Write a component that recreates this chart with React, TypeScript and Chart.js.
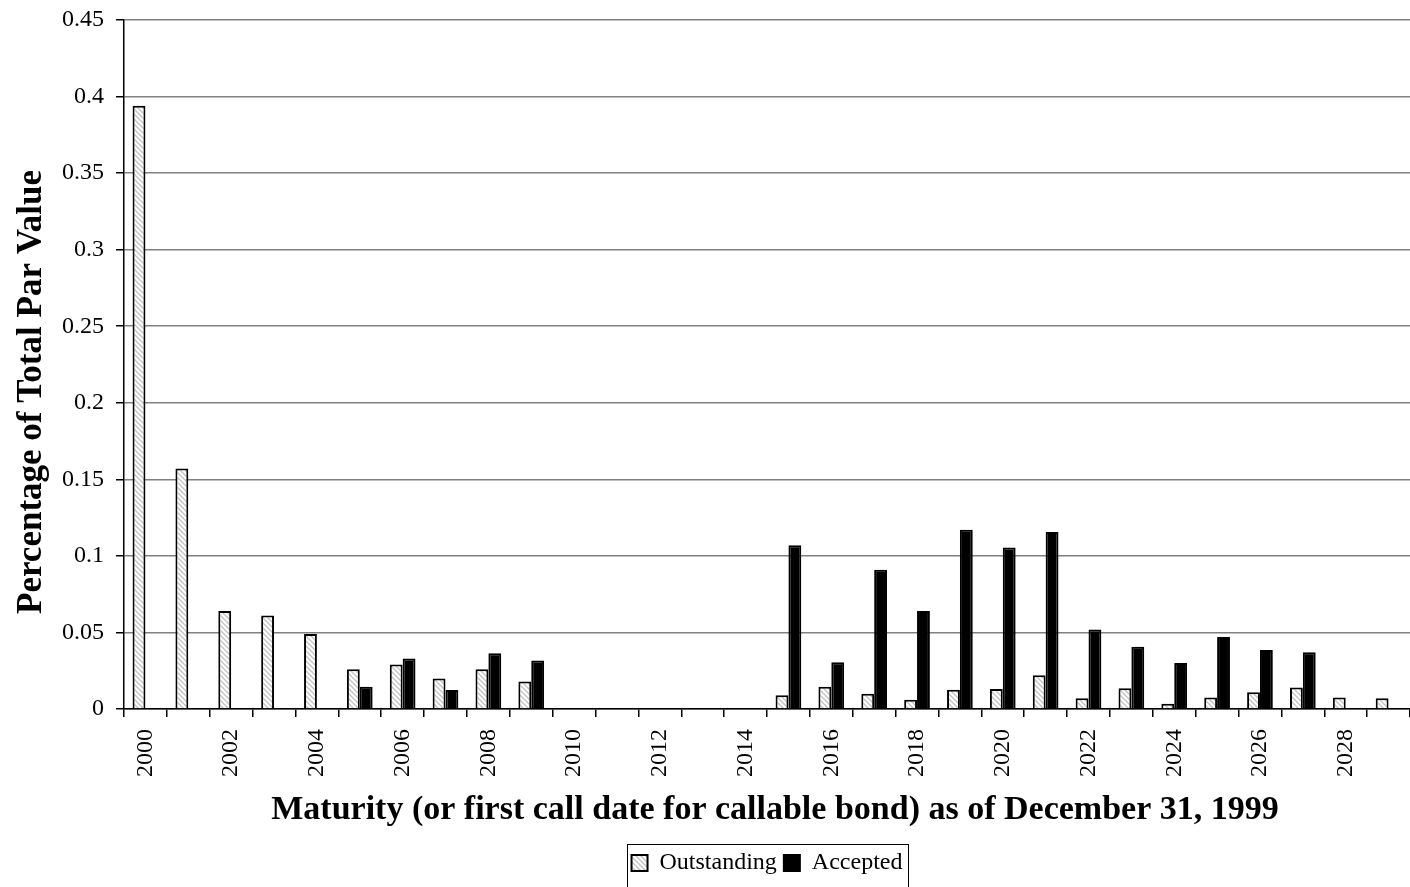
import React, { useEffect, useRef } from "react";
import { Chart, registerables } from "chart.js";

Chart.register(...registerables);

const years = [
  "2000", "2001", "2002", "2003", "2004", "2005", "2006", "2007", "2008", "2009",
  "2010", "2011", "2012", "2013", "2014", "2015", "2016", "2017", "2018", "2019",
  "2020", "2021", "2022", "2023", "2024", "2025", "2026", "2027", "2028", "2029",
];

const outstanding = [
  0.394, 0.157, 0.064, 0.061, 0.049, 0.026, 0.029, 0.020, 0.026, 0.018,
  null, null, null, null, null, 0.009, 0.0145, 0.010, 0.006, 0.0125,
  0.013, 0.022, 0.007, 0.0135, 0.0035, 0.0075, 0.011, 0.014, 0.0075, 0.007,
];

const accepted = [
  null, null, null, null, null, 0.0146, 0.033, 0.0124, 0.0364, 0.0316,
  null, null, null, null, null, 0.107, 0.0305, 0.091, 0.064, 0.117,
  0.1054, 0.1156, 0.052, 0.0407, 0.030, 0.047, 0.0385, 0.037, null, null,
];

const yTicks = [0, 0.05, 0.1, 0.15, 0.2, 0.25, 0.3, 0.35, 0.4, 0.45];

const xTitle = "Maturity (or first call date for callable bond) as of December 31, 1999";
const yTitle = "Percentage of Total Par Value";
const legendLabels = ["Outstanding", "Accepted"];

const FONT = "'Liberation Serif', 'Times New Roman', serif";

function makeHatch(): CanvasPattern | string {
  const n = 5;
  const c = document.createElement("canvas");
  c.width = n;
  c.height = n;
  const g = c.getContext("2d");
  if (!g) return "#ddd";
  g.fillStyle = "#ffffff";
  g.fillRect(0, 0, n, n);
  g.strokeStyle = "#c4c4c4";
  g.lineWidth = 1.4;
  g.beginPath();
  for (let k = -n; k <= n; k += n) {
    g.moveTo(k - 1, -1);
    g.lineTo(k + n + 1, n + 1);
  }
  g.stroke();
  const p = g.createPattern(c, "repeat");
  return p || "#ddd";
}

const titlesPlugin = {
  id: "customTitles",
  afterDraw(chart: any) {
    const ctx = chart.ctx;
    const area = chart.chartArea;
    ctx.save();
    ctx.fillStyle = "#000";
    ctx.font = `bold 34px ${FONT}`;
    ctx.textAlign = "center";
    ctx.textBaseline = "middle";
    ctx.fillText(xTitle, (area.left + area.right) / 2 + 8, 810);
    ctx.translate(32, 392);
    ctx.rotate(-Math.PI / 2);
    ctx.font = `bold 35px ${FONT}`;
    ctx.fillText(yTitle, 0, 0);
    ctx.restore();

    // legend border
    const lg = chart.legend;
    if (lg && lg.legendHitBoxes && lg.legendHitBoxes.length) {
      const boxes = lg.legendHitBoxes;
      let l = Infinity, r = -Infinity, t = Infinity;
      for (const h of boxes) {
        l = Math.min(l, h.left);
        r = Math.max(r, h.left + h.width);
        t = Math.min(t, h.top);
      }
      ctx.save();
      ctx.strokeStyle = "#000";
      ctx.lineWidth = 1;
      ctx.strokeRect(Math.round(l - 5) + 0.5, Math.round(t - 7) + 0.5, Math.round(r - l + 10), 60);
      ctx.restore();
    }
  },
};

export default function App() {
  const ref = useRef<HTMLCanvasElement | null>(null);

  useEffect(() => {
    document.body.style.margin = "0";
    const canvas = ref.current;
    if (!canvas) return;
    const hatch = makeHatch();
    const chart = new Chart(canvas, {
      type: "bar",
      data: {
        labels: years,
        datasets: [
          {
            label: legendLabels[0],
            data: outstanding as any,
            backgroundColor: hatch as any,
            borderColor: "#000",
            borderWidth: 2,
            borderSkipped: "bottom",
            categoryPercentage: 0.6,
            barPercentage: 1,
          },
          {
            label: legendLabels[1],
            data: accepted as any,
            backgroundColor: "#000",
            borderColor: "#000",
            borderWidth: 2,
            borderSkipped: "bottom",
            categoryPercentage: 0.6,
            barPercentage: 1,
          },
        ],
      },
      options: {
        animation: false,
        responsive: false,
        maintainAspectRatio: false,
        layout: { padding: { top: 20, right: 0, left: 0, bottom: 2 } },
        plugins: {
          tooltip: { enabled: false },
          title: { display: false },
          legend: {
            display: true,
            position: "bottom",
            fullSize: false,
            labels: {
              color: "#000",
              font: { family: FONT, size: 24 },
              boxWidth: 16,
              boxHeight: 16,
              padding: 7,
            },
          },
        },
        scales: {
          x: {
            offset: true,
            grid: {
              offset: true,
              drawOnChartArea: false,
              drawTicks: true,
              tickLength: 8,
              tickColor: "#000",
              lineWidth: 1.5,
            },
            border: { color: "#000", width: 1.5 },
            ticks: {
              autoSkip: false,
              maxRotation: 90,
              minRotation: 90,
              padding: 12,
              color: "#000",
              font: { family: FONT, size: 24 },
              callback: (_v: any, i: number) => (i % 2 === 0 ? years[i] : ""),
            },
            afterFit: (scale: any) => {
              scale.height = 135;
              scale.paddingRight = 0;
              scale.paddingLeft = 0;
              scale.paddingTop = 0;
            },
          },
          y: {
            min: 0,
            max: 0.45,
            afterBuildTicks: (scale: any) => {
              scale.ticks = yTicks.map((v) => ({ value: v }));
            },
            grid: {
              color: "#808080",
              lineWidth: 1.5,
              tickLength: 8,
              tickColor: "#000",
            },
            border: { color: "#000", width: 1.5 },
            ticks: {
              color: "#000",
              padding: 12,
              font: { family: FONT, size: 24 },
              callback: (v: any) => String(Number(v)),
            },
            afterFit: (scale: any) => {
              scale.width = 124;
              scale.paddingTop = 0;
              scale.paddingBottom = 0;
            },
          },
        },
      },
      plugins: [titlesPlugin],
    });
    return () => chart.destroy();
  }, []);

  return (
    <div style={{ width: 1410, height: 887 }}>
      <canvas ref={ref} width={1410} height={887} style={{ display: "block" }} />
    </div>
  );
}
